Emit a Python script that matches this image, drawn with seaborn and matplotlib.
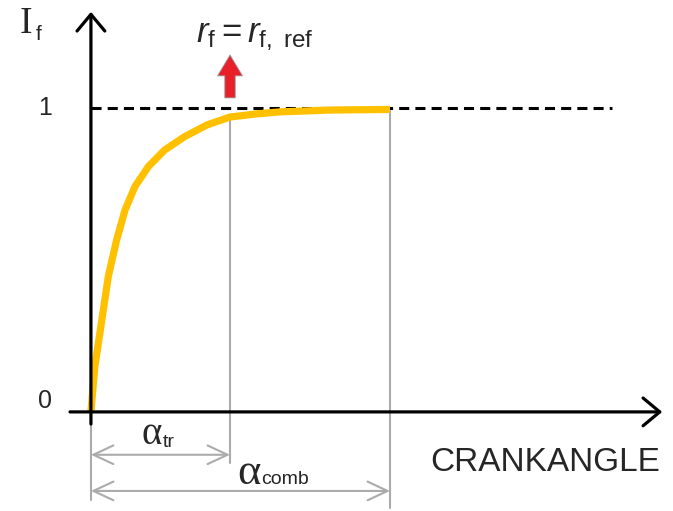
import matplotlib
matplotlib.use("Agg")
import matplotlib.pyplot as plt
import seaborn as sns
import pandas as pd

# values (crank angle scaled so alpha_comb = 1)
crank = [0, 0.013, 0.030, 0.058, 0.086, 0.114, 0.147, 0.192, 0.247, 0.314,
         0.388, 0.465, 0.55, 0.632, 0.80, 1.0]
i_f = [0, 0.148, 0.260, 0.445, 0.566, 0.664, 0.741, 0.807, 0.862, 0.906,
       0.944, 0.970, 0.980, 0.987, 0.993, 0.995]
alpha_tr = 0.465
alpha_comb = 1.0
ref_level = 1.0
tick_labels = ["0", "1"]

sns.set_style("white")
plt.rcParams["font.family"] = ["Liberation Sans", "DejaVu Sans"]
plt.rcParams["mathtext.fontset"] = "custom"
plt.rcParams["mathtext.rm"] = "Liberation Sans"
plt.rcParams["mathtext.it"] = "Liberation Sans:italic"

fig = plt.figure(figsize=(6.73, 5.11), dpi=100)
ax = fig.add_axes([0, 0, 1, 1])
ax.set_xlim(-0.304, 1.946)
ax.set_ylim(-0.326, 1.355)
ax.axis("off")

df = pd.DataFrame({"crank": crank, "i_f": i_f})
sns.lineplot(data=df, x="crank", y="i_f", ax=ax, color="#FFC000", lw=5.2,
             solid_capstyle="butt", solid_joinstyle="round", zorder=4)

# dashed reference level
ax.plot([0, 1.742], [ref_level, ref_level], color="black", lw=2.2,
        linestyle=(0, (3.3, 2)), zorder=3)

# axes drawn as arrows
axis_arrow = dict(arrowstyle="->,head_length=0.6,head_width=0.5", lw=2.3,
                  color="black", mutation_scale=20, shrinkA=0, shrinkB=0)
ax.annotate("", xy=(1.91, 0), xytext=(-0.07, 0), arrowprops=axis_arrow, zorder=5)
ax.annotate("", xy=(0, 1.316), xytext=(0, -0.04), arrowprops=axis_arrow, zorder=5)

ax.text(-0.155, 0.035, tick_labels[0], fontsize=18, ha="center", va="center")
ax.text(-0.155, ref_level, tick_labels[1], fontsize=18, ha="center", va="center")
ax.text(-0.237, 1.247, "I", fontsize=27, family="Liberation Serif", va="baseline")
ax.text(-0.186, 1.224, "f", fontsize=15, va="baseline")

# grey guide lines
grey = "#ABABAB"
ax.plot([0, 0], [0, -0.29], color=grey, lw=1.5, zorder=2)
ax.plot([alpha_tr, alpha_tr], [0.97, -0.168], color=grey, lw=1.5, zorder=2)
ax.plot([alpha_comb, alpha_comb], [0.995, -0.316], color=grey, lw=1.5, zorder=2)

dim_arrow = dict(arrowstyle="<->,head_length=0.6,head_width=0.28", lw=1.5,
                 color=grey, mutation_scale=24, shrinkA=0, shrinkB=0)
ax.annotate("", xy=(alpha_tr, -0.141), xytext=(0, -0.141), arrowprops=dim_arrow)
ax.annotate("", xy=(alpha_comb, -0.26), xytext=(0, -0.26), arrowprops=dim_arrow)

ax.text(0.204, -0.104, "\u03b1", fontsize=28, family="Liberation Serif",
        ha="center", va="baseline")
ax.text(0.241, -0.115, "tr", fontsize=14, va="baseline")
ax.text(0.528, -0.236, "\u03b1", fontsize=32, family="Liberation Serif",
        ha="center", va="baseline")
ax.text(0.569, -0.237, "comb", fontsize=14, va="baseline")

ax.text(1.518, -0.165, "CRANKANGLE", fontsize=24, ha="center", va="center")

# red arrow and r_f label
ax.annotate("", xy=(alpha_tr, 1.174), xytext=(alpha_tr, 1.033),
            arrowprops=dict(arrowstyle="simple,head_length=1.0,head_width=1.2,tail_width=0.5",
                            fc="#E8202A", ec="#999999", lw=0.6,
                            mutation_scale=15, shrinkA=0, shrinkB=0))
ax.text(0.548, 1.217, r"$r_{\mathrm{f}}=r_{\mathrm{f,\ ref}}$", fontsize=25,
        ha="center", va="baseline")

fig.savefig("out.png", dpi=100)
